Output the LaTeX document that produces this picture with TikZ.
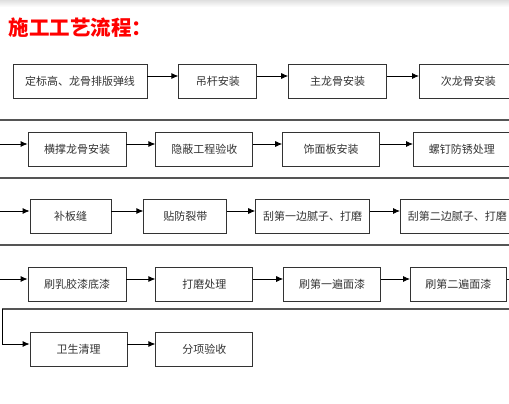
\documentclass[tikz,border=0pt]{standalone}
\usepackage{fontspec}
\setmainfont{Noto Sans CJK SC}
\usetikzlibrary{arrows.meta,positioning}
\definecolor{TitleRed}{HTML}{FF0000}
\definecolor{Ink}{HTML}{333333}
\definecolor{Rule}{HTML}{555555}

\begin{document}
\begin{tikzpicture}[x=1pt,y=-1pt,>={Latex[length=7pt,width=6pt]},
  stepbox/.style={draw=Ink,line width=0.8pt,minimum height=34pt,inner sep=0pt,
    text=Ink,font=\fontsize{11}{13}\selectfont},
  flow/.style={->,line width=0.8pt,black},
  lift/.style={transform canvas={yshift=5pt}},
  rowline/.style={line width=1.6pt,Rule}]
  \clip (0,0) rectangle (509,404);
  \useasboundingbox (0,0) rectangle (509,404);
  \shade[top color=gray!25,bottom color=white] (0,0) rectangle (509,7);
  \node[anchor=west,text=TitleRed,font=\fontsize{20.5}{22}\selectfont\bfseries] (title) at (5,28) {施工工艺流程：};
  % row 1
  \node[stepbox,minimum width=134pt] (b1) at (80,81) {定标高、龙骨排版弹线};
  \node[stepbox,minimum width=78pt,right=31pt of b1] (b2) {吊杆安装};
  \node[stepbox,minimum width=98pt,right=31pt of b2] (b3) {主龙骨安装};
  \node[stepbox,minimum width=98pt,right=32pt of b3] (b4) {次龙骨安装};
  % row 2
  \node[stepbox,minimum width=98pt] (c1) at (77,149) {横撑龙骨安装};
  \node[stepbox,minimum width=97pt,right=29pt of c1] (c2) {隐蔽工程验收};
  \node[stepbox,minimum width=97pt,right=29pt of c2] (c3) {饰面板安装};
  \node[stepbox,minimum width=97pt,right=33pt of c3] (c4) {螺钉防锈处理};
  % row 3
  \node[stepbox,minimum width=81pt] (d1) at (70.5,216) {补板缝};
  \node[stepbox,minimum width=83pt,right=32pt of d1] (d2) {贴防裂带};
  \node[stepbox,minimum width=114pt,right=28pt of d2] (d3) {刮第一边腻子、打磨};
  \node[stepbox,minimum width=114pt,right=30pt of d3] (d4) {刮第二边腻子、打磨};
  % row 4
  \node[stepbox,minimum width=98pt] (e1) at (77,284) {刷乳胶漆底漆};
  \node[stepbox,minimum width=97pt,right=29pt of e1] (e2) {打磨处理};
  \node[stepbox,minimum width=97pt,right=30pt of e2] (e3) {刷第一遍面漆};
  \node[stepbox,minimum width=96pt,right=29pt of e3] (e4) {刷第二遍面漆};
  % row 5
  \node[stepbox,minimum width=97pt] (f1) at (78.5,349) {卫生清理};
  \node[stepbox,minimum width=97pt,right=28pt of f1] (f2) {分项验收};
  % turning points between rows
  \coordinate (r1) at (525,120); \coordinate (l1) at (-6,120);
  \coordinate (r2) at (525,178); \coordinate (l2) at (-6,178);
  \coordinate (r3) at (525,245); \coordinate (l3) at (-6,245);
  \coordinate (r4) at (525,309); \coordinate (l4) at (2,309);
  % arrows in the rows
  \foreach \a/\b in {b1/b2,b2/b3,b3/b4,c1/c2,c2/c3,c3/c4,d1/d2,d2/d3,d3/d4,e1/e2,e2/e3,e3/e4,f1/f2}
    \draw[flow,lift] (\a) -- (\b);
  % from one row to the next
  \draw[line width=0.8pt] ([yshift=5pt]b4.east) -| (r1);
  \draw[rowline] (r1) -- (l1);
  \draw[flow] (l1) |- ([yshift=5pt]c1.west);
  \draw[line width=0.8pt] ([yshift=5pt]c4.east) -| (r2);
  \draw[rowline] (r2) -- (l2);
  \draw[flow] (l2) |- ([yshift=5pt]d1.west);
  \draw[line width=0.8pt] ([yshift=5pt]d4.east) -| (r3);
  \draw[rowline] (r3) -- (l3);
  \draw[flow] (l3) |- ([yshift=5pt]e1.west);
  \draw[line width=0.8pt] ([yshift=5pt]e4.east) -| (r4);
  \draw[rowline] (r4) -- (l4);
  \draw[flow] (l4) |- ([yshift=5pt]f1.west);
\end{tikzpicture}
\end{document}
